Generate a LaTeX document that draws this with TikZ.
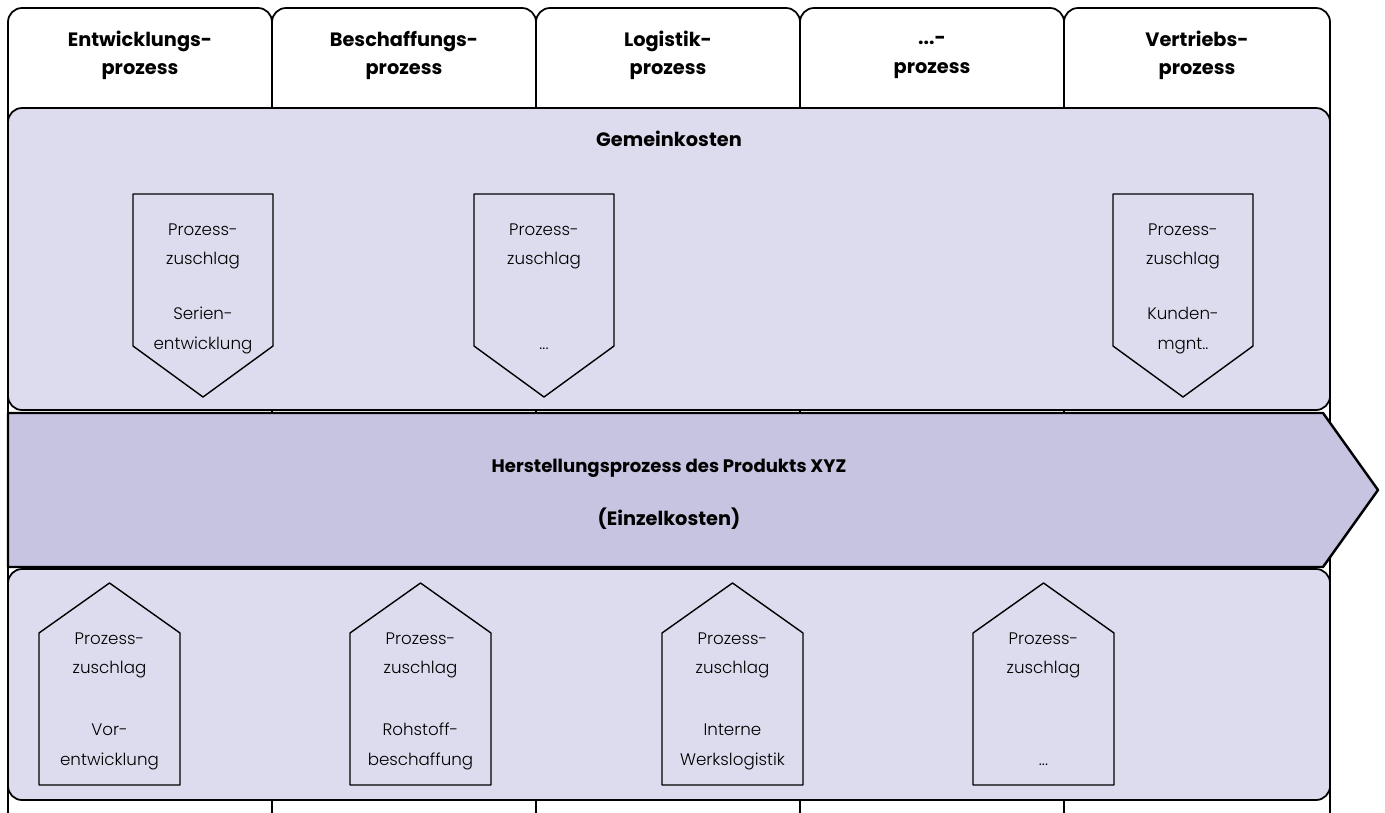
\documentclass[tikz,border=0pt]{standalone}
\usepackage{fontspec}
\setmainfont{Poppins}
\newfontfamily\duenn{Poppins Light}
\definecolor{gemeinfarbe}{HTML}{DCDCEE}
\definecolor{einzelfarbe}{HTML}{C6C4E0}
\tikzset{
  spalte/.style={draw, line width=1pt, fill=white, rounded corners=8},
  band/.style={draw, line width=1pt, fill=gemeinfarbe, rounded corners=8},
  pfeil/.style={draw, line width=1.4pt, fill=einzelfarbe},
  zuschlag/.style={draw, line width=0.8pt, fill=gemeinfarbe},
  kopf/.style={font=\bfseries\fontsize{11}{16}\selectfont, align=center, inner sep=0pt},
  zutext/.style={font=\duenn\fontsize{9.5}{17}\selectfont, align=center, inner sep=0pt, anchor=north}
}
\begin{document}
\begin{tikzpicture}[x=0.02cm, y=-0.02cm, line join=round]
\useasboundingbox (0,0) rectangle (1385,812);
\clip (0,0) rectangle (1385,812);
% Spalten
\foreach \a/\b in {8/272,272/536,536/800,800/1064,1064/1330}
  \draw[spalte] (\a,830) -- (\a,8) -- (\b,8) -- (\b,830);
\node[kopf, anchor=north] (kopf1) at (140,31) {Entwicklungs-\\prozess};
\node[kopf, anchor=north] (kopf2) at (404,31) {Beschaffungs-\\prozess};
\node[kopf, anchor=north] (kopf3) at (668,31) {Logistik-\\prozess};
\node[kopf, anchor=north] (kopf4) at (932,31) {\vphantom{E}...-\\prozess};
\node[kopf, anchor=north] (kopf5) at (1197,31) {Vertriebs-\\prozess};
% Baender
\draw[band] (8,108) rectangle (1330,410);
\draw[band] (8,569) rectangle (1330,800);
\draw[pfeil] (8,413) -- (1323,413) -- (1378,490) -- (1323,567) -- (8,567) -- cycle;
\node[kopf, anchor=base] (gemein) at (669,146) {Gemeinkosten};
\node[kopf, anchor=base, font=\bfseries\fontsize{10.3}{16}\selectfont] (herst) at (669,472) {Herstellungsprozess des Produkts XYZ};
\node[kopf, anchor=base] (einzel) at (669,525) {(Einzelkosten)};
% Zuschlaege oben
\foreach \x in {133,474,1113}
  \draw[zuschlag] (\x,194) -- ++(140,0) -- ++(0,152) -- ++(-70,51) -- ++(-70,-51) -- cycle;
\node[zutext] (oben1) at (203,223) {Prozess-\\zuschlag\\[14pt]Serien-\\entwicklung};
\node[zutext] (oben2) at (544,223) {Prozess-\\zuschlag\\[31pt]...};
\node[zutext] (oben3) at (1183,223) {Prozess-\\zuschlag\\[14pt]Kunden-\\mgnt..};
% Zuschlaege unten
\foreach \x in {39,350,662,973}
  \draw[zuschlag] (\x,785) -- ++(0,-152) -- ++(70.5,-50) -- ++(70.5,50) -- ++(0,152) -- cycle;
\node[zutext] (unten1) at (109.5,632) {Prozess-\\zuschlag\\[18pt]Vor-\\entwicklung};
\node[zutext] (unten2) at (420.5,632) {Prozess-\\zuschlag\\[18pt]Rohstoff-\\beschaffung};
\node[zutext] (unten3) at (732.5,632) {Prozess-\\zuschlag\\[18pt]Interne\\Werkslogistik};
\node[zutext] (unten4) at (1043.5,632) {Prozess-\\zuschlag\\[35pt]...};
\end{tikzpicture}
\end{document}
